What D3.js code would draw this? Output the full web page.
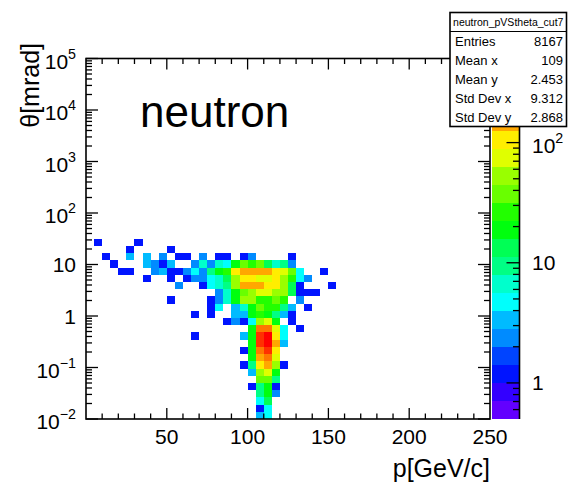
<!DOCTYPE html>
<html><head><meta charset="utf-8">
<script src="https://cdn.jsdelivr.net/npm/d3@7/dist/d3.min.js"></script>
<style>body{margin:0;background:#fff}svg{display:block}text{font-family:"Liberation Sans",Arial,Helvetica,sans-serif;fill:#000}</style>
</head><body><svg id="c" width="568" height="490"></svg>
<script>
// ---------------- data ----------------
const histTitle = "neutron_pVStheta_cut7";
const statLabels = ["Entries", "Mean x", "Mean y", "Std Dev x", "Std Dev y"];
const statValues = ["8167", "109", "2.453", "9.312", "2.868"];
const xTitle = "p[GeV/c]";
const yTitle = "θ[mrad]";
const plotLabel = "neutron";
const pTickLabels = [50, 100, 150, 200, 250];
const thetaTickExps = [-2, -1, 0, 1, 2, 3, 4, 5];
const zTickExps = [0, 1, 2];
const pRange = [0, 250];
const pBinWidth = 5;
const thetaRange = [1e-2, 1e5];
const nThetaBins = 50;
const zRange = [0.501, 501];
const nContours = 20;
// counts[j][i]: theta bin j (from 1e-2 upward, log bins), p bin i (5 GeV wide, from 0)
const counts = [
  [0,0,0,0,0,0,0,0, 0,0,0,0,0,0,0,0, 0,0,0,0,0,3,5,0, 0,0,0,0,0,0,0,0], // j0
  [0,0,0,0,0,0,0,0, 0,0,0,0,0,0,0,0, 0,0,0,0,0,1,5,0, 0,0,0,0,0,0,0,0], // j1
  [0,0,0,0,0,0,0,0, 0,0,0,0,0,0,0,0, 0,0,0,0,0,5,13,0, 0,0,0,0,0,0,0,0], // j2
  [0,0,0,0,0,0,0,0, 0,0,0,0,0,0,0,0, 0,0,0,0,0,10,19,2, 0,0,0,0,0,0,0,0], // j3
  [0,0,0,0,0,0,0,0, 0,0,0,0,0,0,0,0, 0,0,0,0,1,10,19,1, 0,0,0,0,0,0,0,0], // j4
  [0,0,0,0,0,0,0,0, 0,0,0,0,0,0,0,0, 0,0,0,0,0,38,38,10, 0,0,0,0,0,0,0,0], // j5
  [0,0,0,0,0,0,0,0, 0,0,0,0,0,0,0,0, 0,0,0,0,3,54,76,19, 0,0,0,0,0,0,0,0], // j6
  [0,0,0,0,0,0,0,0, 0,0,0,0,0,0,0,0, 0,0,0,1,10,107,150,54, 1,0,0,0,0,0,0,0], // j7
  [0,0,0,0,0,0,0,0, 0,0,0,0,0,0,0,0, 0,0,0,0,19,150,210,76, 0,0,0,0,0,0,0,0], // j8
  [0,0,0,0,0,0,0,0, 0,0,0,0,0,0,0,0, 0,0,0,1,19,210,300,107, 0,0,0,0,0,0,0,0], // j9
  [0,0,0,0,0,0,0,0, 0,0,0,0,0,0,0,0, 0,0,0,0,19,300,420,150, 3,0,0,0,0,0,0,0], // j10
  [0,0,0,0,0,0,0,0, 0,0,0,0,0,1,0,0, 0,0,0,3,19,300,420,107, 5,0,0,0,0,0,0,0], // j11
  [0,0,0,0,0,0,0,0, 0,0,0,0,0,0,0,0, 0,0,0,0,19,210,210,76, 5,0,1,0,0,0,0,0], // j12
  [0,0,0,0,0,0,0,0, 0,0,0,0,0,0,0,0, 0,1,2,1,5,54,76,19, 0,1,0,0,0,0,0,0], // j13
  [0,0,0,0,0,0,0,0, 0,0,0,0,0,1,0,1, 0,0,3,3,19,27,19,10, 3,1,0,0,0,0,0,0], // j14
  [0,0,0,0,0,0,0,0, 0,0,0,0,0,0,0,1, 5,0,3,7,19,38,27,27, 10,3,0,1,0,0,0,0], // j15
  [0,0,0,0,0,0,0,0, 0,0,1,0,0,0,0,1, 2,7,19,54,54,27,27,38, 27,0,2,0,0,0,0,0], // j16
  [0,0,0,0,0,0,0,0, 0,0,0,0,0,0,0,0, 2,7,19,38,54,76,76,54, 54,13,1,1,1,0,0,0], // j17
  [0,0,0,0,0,0,0,0, 0,0,0,2,0,0,1,5, 7,10,54,150,150,150,107,107, 54,13,1,0,0,0,1,0], // j18
  [0,0,0,0,0,0,0,1, 0,0,1,0,1,2,2,5, 7,13,54,107,107,76,76,107, 54,27,5,2,0,0,0,0], // j19
  [0,0,0,0,1,1,0,0, 2,3,1,1,2,5,2,10, 19,27,107,150,150,150,150,107, 76,38,5,0,0,1,0,0], // j20
  [0,0,0,1,0,0,0,3, 2,1,3,0,0,2,7,2, 7,5,19,38,27,38,13,7, 10,2,0,0,0,0,0,0], // j21
  [0,0,1,0,0,3,0,3, 0,2,0,1,1,0,2,0, 1,1,0,1,2,0,0,0, 0,1,0,0,0,0,0,0], // j22
  [0,0,0,0,0,1,0,0, 0,0,1,0,0,0,0,0, 0,0,0,0,0,0,0,0, 0,0,0,0,0,0,0,0], // j23
  [0,1,0,0,0,0,1,0, 0,0,0,0,0,0,0,0, 0,0,0,0,0,0,0,0, 0,0,0,0,0,0,0,0]  // j24
];

// ---------------- layout ----------------
const frame = {left: 86, right: 490, top: 58.5, bottom: 419};
const cbar = {left: 491.5, right: 519.5};
const svg = d3.select("#c");

const x = d3.scaleLinear().domain(pRange).range([frame.left, frame.right]);
const y = d3.scaleLog().domain(thetaRange).range([frame.bottom, frame.top]);
const zBand = d3.scaleLog().domain(zRange).range([0, nContours]);
const zY = d3.scaleLog().domain(zRange).range([frame.bottom, frame.top]);

// ROOT "pretty" palette (HLS hue ramp violet -> red)
function hlsComp(h) { h = (h + 360) % 360; if (h < 60) return h / 60; if (h < 180) return 1; if (h < 240) return (240 - h) / 60; return 0; }
function hls(h) { return d3.rgb(255 * hlsComp(h + 120), 255 * hlsComp(h), 255 * hlsComp(h - 120)).formatHex(); }
const palette = d3.range(50).map(i => hls(280 - (i + 1) * 5.6));
const bandColors = d3.range(nContours).map(k => palette[Math.floor((k + 0.99) * 50 / nContours)]);
function colorOf(c) { let k = Math.floor(0.01 + zBand(c)); k = Math.max(0, Math.min(nContours - 1, k)); return bandColors[k]; }

const thetaEdge = j => Math.pow(10, Math.log10(thetaRange[0]) + j * (Math.log10(thetaRange[1]) - Math.log10(thetaRange[0])) / nThetaBins);

// ---------------- cells ----------------
const cells = [];
counts.forEach((row, j) => row.forEach((c, i) => { if (c > 0) cells.push({i, j, c}); }));
svg.append("g").selectAll("rect").data(cells).join("rect")
  .attr("x", d => x(d.i * pBinWidth))
  .attr("width", d => x((d.i + 1) * pBinWidth) - x(d.i * pBinWidth))
  .attr("y", d => y(thetaEdge(d.j + 1)))
  .attr("height", d => y(thetaEdge(d.j)) - y(thetaEdge(d.j + 1)))
  .attr("fill", d => colorOf(d.c))
  .attr("shape-rendering", "crispEdges");

// ---------------- frame & ticks ----------------
const axes = svg.append("g").attr("stroke", "#000").attr("fill", "none");
axes.append("rect").attr("x", frame.left).attr("y", frame.top)
  .attr("width", frame.right - frame.left).attr("height", frame.bottom - frame.top)
  .attr("stroke-width", 1.6);
const xMinor = d3.range(10, 250, 10);
const tickW = 1.3;
[frame.bottom, frame.top].forEach((yy, k) => {
  const s = k === 0 ? -1 : 1;
  xMinor.forEach(v => {
    const L = v % 50 === 0 ? 11 : 5.5;
    axes.append("line").attr("x1", x(v)).attr("x2", x(v)).attr("y1", yy).attr("y2", yy + s * L).attr("stroke-width", tickW);
  });
});
const yMajor = thetaTickExps.map(e => Math.pow(10, e));
const yMinorV = [];
for (let e = -2; e < 5; e++) for (let m = 2; m <= 9; m++) yMinorV.push(m * Math.pow(10, e));
[frame.left, frame.right].forEach((xx, k) => {
  const s = k === 0 ? 1 : -1;
  yMajor.forEach(v => axes.append("line").attr("x1", xx).attr("x2", xx + s * 12).attr("y1", y(v)).attr("y2", y(v)).attr("stroke-width", tickW));
  yMinorV.forEach(v => axes.append("line").attr("x1", xx).attr("x2", xx + s * 6).attr("y1", y(v)).attr("y2", y(v)).attr("stroke-width", tickW));
});

// x labels
svg.append("g").selectAll("text").data(pTickLabels).join("text")
  .attr("x", d => x(d)).attr("y", 444).attr("text-anchor", "middle").attr("font-size", 21)
  .text(d => d);

function powLabel(g, e, xx, yy, anchor, fs) {
  const t = g.append("text").attr("x", xx).attr("text-anchor", anchor).attr("font-size", fs);
  if (e === 0 || e === 1) {
    t.attr("y", yy + 7.5).text(e === 0 ? "1" : "10");
  } else {
    t.attr("y", yy + 10);
    t.append("tspan").text("10");
    t.append("tspan").attr("dy", -10).attr("font-size", fs * 0.68).text(e < 0 ? "\u2212" + (-e) : String(e));
  }
}
const yl = svg.append("g");
thetaTickExps.forEach(e => powLabel(yl, e, 76, y(Math.pow(10, e)), "end", 21));

// titles
svg.append("text").attr("x", frame.right).attr("y", 477).attr("text-anchor", "end").attr("font-size", 25).text(xTitle);
svg.append("text").attr("transform", "translate(39,43) rotate(-90)").attr("text-anchor", "end").attr("font-size", 25).text(yTitle);
svg.append("text").attr("x", 140).attr("y", 127).attr("font-size", 44).text(plotLabel);

// ---------------- colour bar ----------------
const cb = svg.append("g");
const bandY = d3.scaleLinear().domain([0, nContours]).range([frame.bottom, frame.top]);
cb.selectAll("rect").data(bandColors).join("rect")
  .attr("x", cbar.left).attr("width", cbar.right - cbar.left)
  .attr("y", (d, k) => bandY(k + 1)).attr("height", (d, k) => bandY(k) - bandY(k + 1))
  .attr("fill", d => d).attr("shape-rendering", "crispEdges");
cb.append("line").attr("x1", cbar.right).attr("x2", cbar.right).attr("y1", frame.top).attr("y2", frame.bottom).attr("stroke", "#000").attr("stroke-width", 1.6);
const zMinorV = [];
for (let e = -1; e < 3; e++) for (let m = 2; m <= 9; m++) { const v = m * Math.pow(10, e); if (v >= zRange[0] && v <= zRange[1]) zMinorV.push(v); }
zTickExps.forEach(e => cb.append("line").attr("x1", cbar.right).attr("x2", cbar.right - 13).attr("y1", zY(Math.pow(10, e))).attr("y2", zY(Math.pow(10, e))).attr("stroke", "#000").attr("stroke-width", tickW));
zMinorV.forEach(v => cb.append("line").attr("x1", cbar.right).attr("x2", cbar.right - 6.5).attr("y1", zY(v)).attr("y2", zY(v)).attr("stroke", "#000").attr("stroke-width", tickW));
zTickExps.forEach(e => powLabel(cb, e, 532, zY(Math.pow(10, e)), "start", 21));

// ---------------- stats box ----------------
const sb = {x: 450, y: 12.5, w: 116.5, h: 114, titleH: 19};
const st = svg.append("g");
st.append("rect").attr("x", sb.x).attr("y", sb.y).attr("width", sb.w).attr("height", sb.h)
  .attr("fill", "#fff").attr("stroke", "#000").attr("stroke-width", 1.6);
st.append("line").attr("x1", sb.x).attr("x2", sb.x + sb.w).attr("y1", sb.y + sb.titleH).attr("y2", sb.y + sb.titleH).attr("stroke", "#000").attr("stroke-width", 1.2);
st.append("text").attr("x", sb.x + sb.w / 2).attr("y", sb.y + 13.5).attr("text-anchor", "middle").attr("font-size", 10.5).text(histTitle);
statLabels.forEach((l, k) => {
  const yy = sb.y + sb.titleH + 19 * k + 14.5;
  st.append("text").attr("x", sb.x + 5).attr("y", yy).attr("font-size", 13).text(l);
  st.append("text").attr("x", sb.x + sb.w - 3.5).attr("y", yy).attr("text-anchor", "end").attr("font-size", 13).text(statValues[k]);
});
</script></body></html>
